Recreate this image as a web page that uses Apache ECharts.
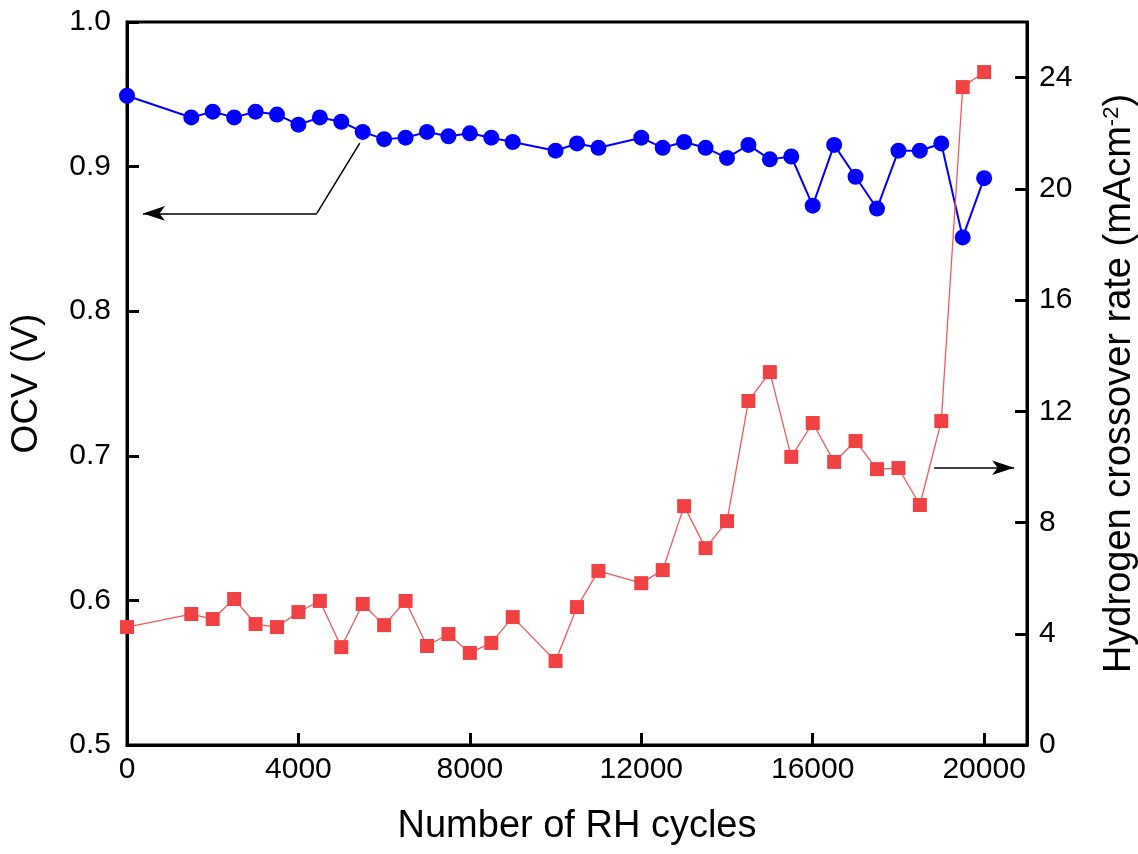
<!DOCTYPE html>
<html>
<head>
<meta charset="utf-8">
<script src="https://cdn.jsdelivr.net/npm/echarts@6/dist/echarts.min.js"></script>
<style>
html,body{margin:0;padding:0;background:#fff;overflow:hidden;}
#chart{width:1138px;height:854px;}
</style>
</head>
<body>
<div id="chart"></div>
<script>
// Data
const cycles = [0,1500,2000,2500,3000,3500,4000,4500,5000,5500,6000,6500,7000,7500,8000,8500,9000,10000,10500,11000,12000,12500,13000,13500,14000,14500,15000,15500,16000,16500,17000,17500,18000,18500,19000,19500,20000];
const ocv = [0.949,0.934,0.938,0.934,0.938,0.936,0.929,0.934,0.931,0.924,0.919,0.920,0.924,0.921,0.923,0.920,0.917,0.911,0.916,0.913,0.920,0.913,0.917,0.913,0.906,0.915,0.905,0.907,0.873,0.915,0.893,0.871,0.911,0.911,0.916,0.851,0.892];
const crossover = [4.24,4.71,4.53,5.25,4.35,4.24,4.78,5.18,3.52,5.07,4.31,5.18,3.56,3.99,3.31,3.67,4.60,3.02,4.96,6.26,5.82,6.29,8.59,7.08,8.05,12.37,13.41,10.36,11.58,10.18,10.93,9.92,9.96,8.63,11.65,23.66,24.20];
// Annotation arrows (data coordinates)
const leftArrow = [[5431,0.9163],[4429,0.8676],[373,0.8676]];
const rightArrow = [[18834,9.97],[20699,9.97]];

const ocvData = cycles.map((c,i)=>[c,ocv[i]]);
const h2Data = cycles.map((c,i)=>[c,crossover[i]]);

const FONT = '"Liberation Sans", Arial, sans-serif';
const chart = echarts.init(document.getElementById('chart'), null, {width:1138, height:854});
const arrowLine = {color:'#000',width:1.5,type:'solid'};
chart.setOption({
  animation:false,
  backgroundColor:'#fff',
  grid:{left:127,right:111,top:22,bottom:109,show:true,borderColor:'#000',borderWidth:3,
        containLabel:false,outerBoundsMode:'none'},
  xAxis:{
    type:'value',min:0,max:21000,interval:4000,
    name:'Number of RH cycles',nameLocation:'middle',nameGap:63,
    nameTextStyle:{fontFamily:FONT,fontSize:38,color:'#000'},
    axisLine:{show:true,lineStyle:{color:'#000',width:3}},
    axisTick:{show:true,inside:true,length:12,lineStyle:{color:'#000',width:3}},
    axisLabel:{fontFamily:FONT,fontSize:30,color:'#000',margin:10,showMaxLabel:false,formatter:v=>String(v)},
    splitLine:{show:false}
  },
  yAxis:[{
    type:'value',min:0.5,max:1.0,interval:0.1,position:'left',
    name:'OCV (V)',nameLocation:'middle',nameGap:82,nameRotate:90,
    nameTextStyle:{fontFamily:FONT,fontSize:37,color:'#000'},
    axisLine:{show:true,lineStyle:{color:'#000',width:3}},
    axisTick:{show:true,inside:true,length:12,lineStyle:{color:'#000',width:3}},
    axisLabel:{fontFamily:FONT,fontSize:30,color:'#000',margin:16,formatter:v=>v.toFixed(1)},
    splitLine:{show:false}
  },{
    type:'value',min:0,max:26,interval:4,position:'right',
    name:'Hydrogen crossover rate (mAcm{sup|-2})',nameLocation:'middle',nameGap:74,nameRotate:90,
    nameTextStyle:{fontFamily:FONT,fontSize:38,color:'#000',
      rich:{sup:{fontFamily:FONT,fontSize:22,color:'#000',verticalAlign:'top',padding:[0,0,14,0]}}},
    axisLine:{show:true,lineStyle:{color:'#000',width:3}},
    axisTick:{show:true,inside:true,length:12,lineStyle:{color:'#000',width:3}},
    axisLabel:{fontFamily:FONT,fontSize:30,color:'#000',margin:12,showMaxLabel:false,formatter:v=>String(v)},
    splitLine:{show:false}
  }],
  series:[{
    name:'OCV',type:'line',yAxisIndex:0,data:ocvData,
    symbol:'circle',symbolSize:16,
    itemStyle:{color:'#0000FF'},
    lineStyle:{color:'#0000FF',width:2},
    markLine:{
      silent:true,animation:false,label:{show:false},
      lineStyle:arrowLine,
      emphasis:{disabled:true},
      data:[
        [{coord:leftArrow[0],symbol:'none'},{coord:leftArrow[1],symbol:'none'}],
        [{coord:leftArrow[1],symbol:'none'},{coord:leftArrow[2],symbol:'arrow',symbolSize:[11,22]}]
      ]
    }
  },{
    name:'H2',type:'line',yAxisIndex:1,data:h2Data,
    symbol:'rect',symbolSize:14,
    itemStyle:{color:'#F04242'},
    lineStyle:{color:'#F25A5A',width:1.3},
    markLine:{
      silent:true,animation:false,label:{show:false},
      lineStyle:arrowLine,
      emphasis:{disabled:true},
      data:[
        [{coord:rightArrow[0],symbol:'none'},{coord:rightArrow[1],symbol:'arrow',symbolSize:[11,22]}]
      ]
    }
  }]
});
</script>
</body>
</html>
